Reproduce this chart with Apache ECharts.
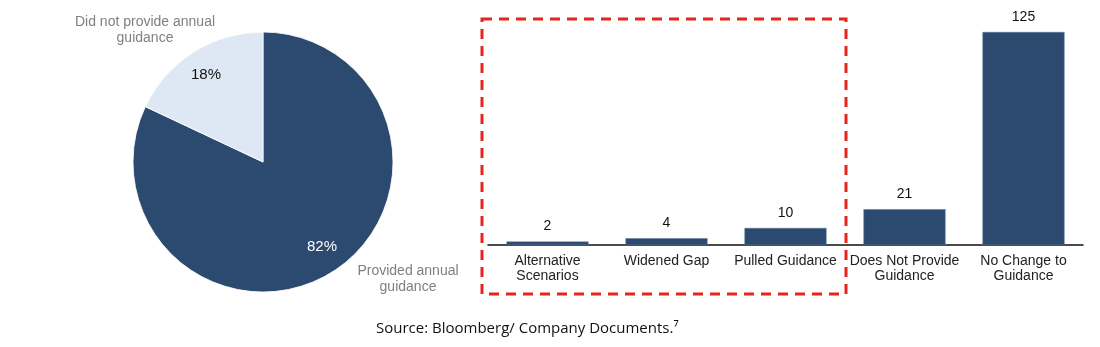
<!DOCTYPE html>
<html>
<head>
<meta charset="utf-8">
<script src="https://cdn.jsdelivr.net/npm/echarts@6/dist/echarts.min.js"></script>
<style>html,body{margin:0;padding:0;background:#fff}#c{width:1100px;height:347px}</style>
</head>
<body>
<div id="c"></div>
<script>
const pieNames = ['Provided annual\nguidance', 'Did not provide annual\nguidance'];
const pieValues = [82, 18];
const barCategories = ['Alternative\nScenarios', 'Widened Gap', 'Pulled Guidance', 'Does Not Provide\nGuidance', 'No Change to\nGuidance'];
const barValues = [2, 4, 10, 21, 125];
const sourceText = 'Source: Bloomberg/ Company Documents.\u2077';

const DARK = '#2c4a70';
const LIGHT = '#dde8f4';
const FONT = '"Liberation Sans", Arial, sans-serif';

const pctPos = [{ x: 322, y: 247, c: '#ffffff' }, { x: 206, y: 75, c: '#111111' }];
const namePos = [{ x: 408, y: 279 }, { x: 145, y: 30 }];

const pieData = pieNames.map((n, i) => ({
  name: n, value: pieValues[i],
  itemStyle: { color: i === 0 ? DARK : LIGHT },
  label: { color: pctPos[i].c }
}));

const chart = echarts.init(document.getElementById('c'), null, { renderer: 'canvas' });
chart.setOption({
  animation: false,
  textStyle: { fontFamily: FONT },
  grid: { left: 488, right: 17, top: 32, bottom: 102 },
  xAxis: {
    type: 'category',
    data: barCategories,
    axisLine: { show: true, lineStyle: { color: '#111', width: 1.5 } },
    axisTick: { show: false },
    axisLabel: { color: '#222', fontSize: 14, lineHeight: 15, margin: 9, interval: 0, fontFamily: FONT }
  },
  yAxis: {
    type: 'value', min: 0, max: 125, show: false,
    splitLine: { show: false }
  },
  series: [
    {
      type: 'bar',
      data: barValues,
      barWidth: 82,
      itemStyle: { color: DARK, borderColor: '#5a7394', borderWidth: 0.5 },
      label: { show: true, position: 'top', distance: 8, color: '#111', fontSize: 14, fontFamily: FONT }
    },
    {
      type: 'pie',
      center: [263, 162],
      radius: [0, 130],
      startAngle: 90,
      clockwise: true,
      data: pieData,
      itemStyle: { borderColor: '#ffffff', borderWidth: 0.8 },
      label: {
        show: true, position: 'inside', fontSize: 15, fontFamily: FONT,
        formatter: p => p.value + '%'
      },
      labelLayout: p => ({ x: pctPos[p.dataIndex].x, y: pctPos[p.dataIndex].y, align: 'center', verticalAlign: 'middle' }),
      emphasis: { disabled: true },
      silent: true
    },
    {
      type: 'pie',
      center: [263, 162],
      radius: [0, 130],
      startAngle: 90,
      clockwise: true,
      data: pieNames.map((n, i) => ({ name: n, value: pieValues[i], itemStyle: { color: 'transparent' } })),
      label: {
        show: true, position: 'outside', fontSize: 14, lineHeight: 16, fontFamily: FONT,
        color: '#808080', formatter: '{b}', align: 'center'
      },
      labelLine: { show: false },
      labelLayout: p => ({ x: namePos[p.dataIndex].x, y: namePos[p.dataIndex].y, align: 'center', verticalAlign: 'middle' }),
      emphasis: { disabled: true },
      silent: true,
      z: 1
    }
  ],
  graphic: [
    {
      type: 'rect',
      shape: { x: 482, y: 19, width: 364, height: 275 },
      style: { fill: 'none', stroke: '#e8241f', lineWidth: 3, lineDash: [10, 7] },
      z: 100
    },
    {
      type: 'text',
      x: 376, y: 329,
      style: { text: sourceText, fill: '#111', font: '15px "Open Sans", "Liberation Sans", sans-serif', textVerticalAlign: 'middle' }
    }
  ]
});
</script>
</body>
</html>
